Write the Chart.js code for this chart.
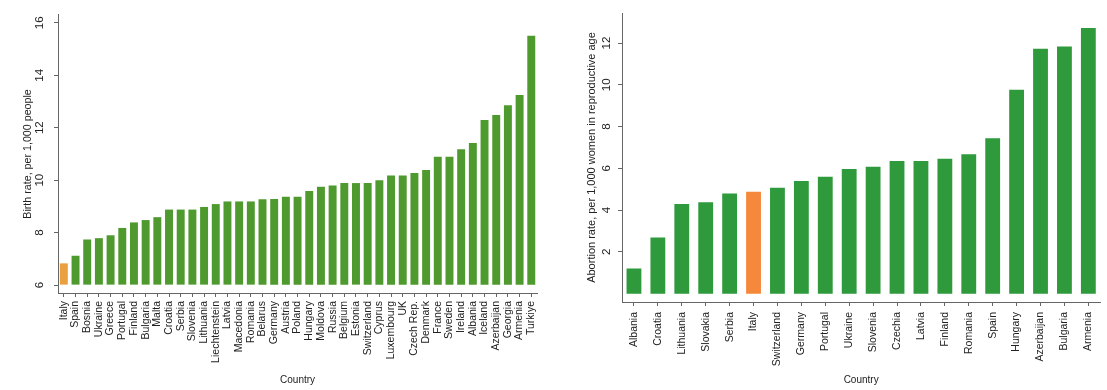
<!DOCTYPE html>
<html>
<head>
<meta charset="utf-8">
<script src="https://cdn.jsdelivr.net/npm/chart.js@4.4.1/dist/chart.umd.min.js"></script>
<style>
  body { margin: 0; background: #fff; }
  #left { position: absolute; left: 0; top: 0; }
  #right { position: absolute; left: 560px; top: 0; }
</style>
</head>
<body>
<canvas id="left" width="548" height="390"></canvas>
<canvas id="right" width="547" height="390"></canvas>
<script>
// birth rate, per 1,000 people
var birthCountries = ['Italy', 'Spain', 'Bosnia', 'Ukraine', 'Greece', 'Portugal', 'Finland', 'Bulgaria', 'Malta',
    'Croatia', 'Serbia', 'Slovenia', 'Lithuania', 'Liechtenstein', 'Latvia', 'Macedonia', 'Romania', 'Belarus',
    'Germany', 'Austria', 'Poland', 'Hungary', 'Moldova', 'Russia', 'Belgium', 'Estonia', 'Switzerland', 'Cyprus',
    'Luxembourg', 'UK', 'Czech Rep.', 'Denmark', 'France', 'Sweden', 'Ireland', 'Albania', 'Iceland', 'Azerbaijan',
    'Georgia', 'Armenia', 'Turkiye'];
var birthRates = [6.83, 7.12, 7.74, 7.79, 7.9, 8.18, 8.39, 8.48, 8.59,
    8.88, 8.88, 8.88, 8.98, 9.09, 9.19, 9.19, 9.19, 9.27,
    9.28, 9.37, 9.37, 9.59, 9.75, 9.8, 9.89, 9.89, 9.89, 10.0,
    10.18, 10.18, 10.27, 10.39, 10.89, 10.89, 11.18, 11.42, 12.29, 12.48,
    12.86, 13.25, 15.51];
var birthTicks = [6, 8, 10, 12, 14, 16];

// abortion rate, per 1,000 women in reproductive age
var abortionCountries = ['Albania', 'Croatia', 'Lithuania', 'Slovakia', 'Serbia', 'Italy', 'Switzerland', 'Germany',
    'Portugal', 'Ukraine', 'Slovenia', 'Czechia', 'Latvia', 'Finland', 'Romania', 'Spain', 'Hungary', 'Azerbaijan',
    'Bulgaria', 'Armenia'];
var abortionRates = [1.2, 2.69, 4.29, 4.38, 4.8, 4.88, 5.07, 5.39,
    5.6, 5.97, 6.08, 6.35, 6.35, 6.46, 6.67, 7.44, 9.76, 11.73,
    11.84, 12.72];
var abortionTicks = [2, 4, 6, 8, 10, 12];

var fontFam = '"Liberation Sans", Arial, Helvetica, sans-serif';
var textCol = '#222';
var axisCol = '#666';

function colorsFor(list, green, orange) {
    var out = [];
    for (var i = 0; i < list.length; i++) {
        if (list[i] == 'Italy') {
            out.push(orange);
        } else {
            out.push(green);
        }
    }
    return out;
}

function makeChart(id, labels, values, opts) {
    var ctx = document.getElementById(id).getContext('2d');
    var dataset = {
        data: values,
        backgroundColor: colorsFor(labels, opts.green, opts.orange),
        borderWidth: 0,
        barPercentage: opts.barPct,
        categoryPercentage: 1
    };
    if (opts.base != null) {
        dataset.base = opts.base;
    }
    return new Chart(ctx, {
        type: 'bar',
        data: {
            labels: labels,
            datasets: [dataset]
        },
        options: {
            responsive: false,
            animation: false,
            layout: { padding: { top: 13, right: opts.padRight, left: 0, bottom: 0 } },
            plugins: {
                legend: { display: false },
                tooltip: { enabled: false }
            },
            scales: {
                x: {
                    offset: true,
                    afterFit: function (scale) { scale.height = opts.xHeight; },
                    border: { display: true, color: axisCol, width: 1 },
                    grid: { offset: false, drawOnChartArea: false, drawTicks: true, tickLength: 4, color: axisCol },
                    ticks: {
                        autoSkip: false,
                        minRotation: 90,
                        maxRotation: 90,
                        padding: opts.xPad,
                        color: textCol,
                        font: { family: fontFam, size: 10.5 }
                    },
                    title: {
                        display: true,
                        text: 'Country',
                        color: textCol,
                        padding: { top: 0, bottom: 4 },
                        font: { family: fontFam, size: 10 }
                    }
                },
                y: {
                    min: opts.min,
                    max: opts.max,
                    afterFit: function (scale) { scale.width = opts.yWidth; },
                    afterBuildTicks: function (scale) {
                        scale.ticks = opts.ticks.map(function (v) { return { value: v }; });
                    },
                    border: { display: true, color: axisCol, width: 1 },
                    grid: { drawOnChartArea: false, drawTicks: true, tickLength: 4, color: axisCol },
                    ticks: {
                        minRotation: 90,
                        maxRotation: 90,
                        crossAlign: 'center',
                        padding: opts.yPad,
                        color: textCol,
                        font: { family: fontFam, size: 11.5 }
                    },
                    title: {
                        display: true,
                        text: opts.yTitle,
                        color: textCol,
                        padding: { top: opts.titlePad, bottom: 0 },
                        font: { family: fontFam, size: opts.titleSize }
                    }
                }
            }
        }
    });
}

makeChart('left', birthCountries, birthRates, {
    green: '#4f9a2e', orange: '#eba040', barPct: 0.68, base: 6,
    min: 5.7, max: 16.3, ticks: birthTicks,
    padRight: 10, xHeight: 97, xPad: 4, yWidth: 58, yPad: 8,
    yTitle: 'Birth rate, per 1,000 people', titlePad: 21.5, titleSize: 10.7
});

makeChart('right', abortionCountries, abortionRates, {
    green: '#2e9a3c', orange: '#f5883a', barPct: 0.62, base: null,
    min: -0.4, max: 13.44, ticks: abortionTicks,
    padRight: 2, xHeight: 88, xPad: 6, yWidth: 62, yPad: 5,
    yTitle: 'Abortion rate, per 1,000 women in reproductive age', titlePad: 25, titleSize: 11
});
</script>
</body>
</html>
